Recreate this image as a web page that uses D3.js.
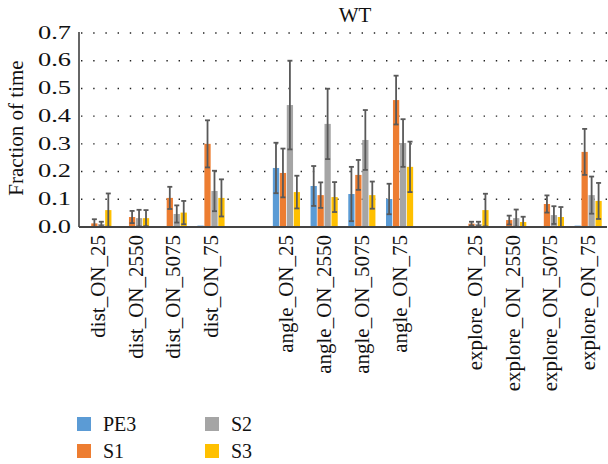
<!DOCTYPE html>
<html lang="en">

<head>
  <meta charset="UTF-8">
  <title>WT</title>
  <script src="https://d3js.org/d3.v7.min.js"></script>
  <style>
    body {
      margin: 0;
      background: #fff;
    }

    text {
      font-family: "Liberation Serif", "Times New Roman", serif;
      fill: #111;
    }

    .grid line {
      stroke: #222;
      stroke-width: 1.4px;
      stroke-dasharray: 1.4, 10.8;
    }

    .err {
      stroke: #595959;
      stroke-width: 1.8px;
    }
  </style>
</head>

<body>
  <div id="chart"></div>
  <script>
    const categories = [
      "dist_ON_25", "dist_ON_2550", "dist_ON_5075", "dist_ON_75",
      "angle_ON_25", "angle_ON_2550", "angle_ON_5075", "angle_ON_75",
      "explore_ON_25", "explore_ON_2550", "explore_ON_5075", "explore_ON_75"
    ];
    const series = ["PE3", "S1", "S2", "S3"];
    const colors = ["#5b9bd5", "#ed7d31", "#a5a5a5", "#ffc000"];

    const pe3 = [0.002, 0.002, 0.002, 0.005, 0.213, 0.148, 0.119, 0.101, 0.002, 0.002, 0.002, 0.005];
    const s1 = [0.013, 0.036, 0.105, 0.300, 0.195, 0.115, 0.188, 0.458, 0.012, 0.025, 0.083, 0.271];
    const s2 = [0.011, 0.032, 0.047, 0.130, 0.440, 0.372, 0.314, 0.303, 0.011, 0.032, 0.043, 0.115];
    const s3 = [0.061, 0.032, 0.052, 0.105, 0.126, 0.108, 0.115, 0.217, 0.061, 0.018, 0.036, 0.094];

    const pe3Err = [0, 0, 0, 0, 0.091, 0.072, 0.098, 0.055, 0, 0, 0, 0];
    const s1Err = [0.015, 0.022, 0.040, 0.085, 0.088, 0.046, 0.054, 0.088, 0.007, 0.016, 0.031, 0.083];
    const s2Err = [0.008, 0.030, 0.031, 0.073, 0.160, 0.127, 0.108, 0.086, 0.008, 0.031, 0.032, 0.067];
    const s3Err = [0.060, 0.029, 0.042, 0.067, 0.059, 0.054, 0.049, 0.091, 0.059, 0.019, 0.036, 0.065];

    const yTicks = [0, 0.1, 0.2, 0.3, 0.4, 0.5, 0.6, 0.7];

    const values = [pe3, s1, s2, s3];
    const errors = [pe3Err, s1Err, s2Err, s3Err];

    // empty slots between the three groups
    const slots = [
      ...categories.slice(0, 4), "gap1",
      ...categories.slice(4, 8), "gap2",
      ...categories.slice(8)
    ];

    const width = 608, height = 464;
    const plotLeft = 79, plotRight = 607, plotTop = 33, plotBottom = 227;

    const svg = d3.select("#chart").append("svg")
      .attr("width", width)
      .attr("height", height);

    const x0 = d3.scaleBand()
      .domain(slots)
      .range([plotLeft, plotRight])
      .paddingInner(0.28)
      .paddingOuter(0.14);

    const x1 = d3.scaleBand()
      .domain(series)
      .range([0, x0.bandwidth()])
      .paddingInner(0.1);

    const y = d3.scaleLinear()
      .domain([0, 0.7])
      .range([plotBottom, plotTop]);

    // dotted gridlines
    svg.append("g")
      .attr("class", "grid")
      .selectAll("line")
      .data(yTicks.filter(d => d > 0))
      .enter().append("line")
      .attr("x1", plotLeft + 2)
      .attr("x2", plotRight)
      .attr("y1", d => y(d))
      .attr("y2", d => y(d));

    const rows = [];
    categories.forEach((c, i) => {
      series.forEach((s, j) => {
        rows.push({ cat: c, series: s, idx: j, v: values[j][i], e: errors[j][i] });
      });
    });

    svg.append("g")
      .selectAll("rect")
      .data(rows)
      .enter().append("rect")
      .attr("x", d => x0(d.cat) + x1(d.series))
      .attr("width", x1.bandwidth())
      .attr("y", d => y(d.v))
      .attr("height", d => y(0) - y(d.v))
      .attr("fill", d => colors[d.idx]);

    // error bars
    const eb = svg.append("g")
      .attr("class", "err")
      .selectAll("g")
      .data(rows.filter(d => d.e > 0))
      .enter().append("g")
      .attr("transform", d => `translate(${x0(d.cat) + x1(d.series) + x1.bandwidth() / 2},0)`);

    eb.append("line")
      .attr("y1", d => y(Math.max(0, d.v - d.e)))
      .attr("y2", d => y(d.v + d.e));
    eb.append("line")
      .attr("x1", -2.5).attr("x2", 2.5)
      .attr("y1", d => y(d.v + d.e))
      .attr("y2", d => y(d.v + d.e));
    eb.append("line")
      .attr("x1", -2.5).attr("x2", 2.5)
      .attr("y1", d => y(Math.max(0, d.v - d.e)))
      .attr("y2", d => y(Math.max(0, d.v - d.e)));

    // axes
    svg.append("line")
      .attr("x1", plotLeft).attr("x2", plotLeft)
      .attr("y1", plotTop - 1).attr("y2", plotBottom)
      .attr("stroke", "#333").attr("stroke-width", 1.5);

    svg.append("line")
      .attr("x1", plotLeft).attr("x2", plotRight)
      .attr("y1", plotBottom).attr("y2", plotBottom)
      .attr("stroke", "#444").attr("stroke-width", 2);

    svg.append("g")
      .selectAll("text")
      .data(yTicks)
      .enter().append("text")
      .attr("x", 71)
      .attr("y", d => y(d))
      .attr("dy", "0.3em")
      .attr("text-anchor", "end")
      .attr("font-size", 19)
      .attr("textLength", 33)
      .attr("lengthAdjust", "spacingAndGlyphs")
      .text(d => d.toFixed(1));

    svg.append("g")
      .selectAll("text")
      .data(categories)
      .enter().append("text")
      .attr("transform", d => `translate(${x0(d) + x0.bandwidth() / 2},235) rotate(-90)`)
      .attr("text-anchor", "end")
      .attr("dy", "0.33em")
      .attr("font-size", 21)
      .text(d => d);

    svg.append("text")
      .attr("transform", "translate(23,128) rotate(-90)")
      .attr("text-anchor", "middle")
      .attr("font-size", 21)
      .text("Fraction of time");

    svg.append("text")
      .attr("x", 355)
      .attr("y", 22)
      .attr("text-anchor", "middle")
      .attr("font-size", 21)
      .text("WT");

    // legend
    const legendPos = [[77, 417], [77, 444], [205, 417], [205, 444]];
    const legend = svg.append("g")
      .selectAll("g")
      .data(series)
      .enter().append("g")
      .attr("transform", (d, i) => `translate(${legendPos[i][0]},${legendPos[i][1]})`);

    legend.append("rect")
      .attr("width", 14)
      .attr("height", 14)
      .attr("fill", (d, i) => colors[i]);

    legend.append("text")
      .attr("x", 26)
      .attr("y", 14)
      .attr("font-size", 20)
      .text(d => d);
  </script>
</body>

</html>
